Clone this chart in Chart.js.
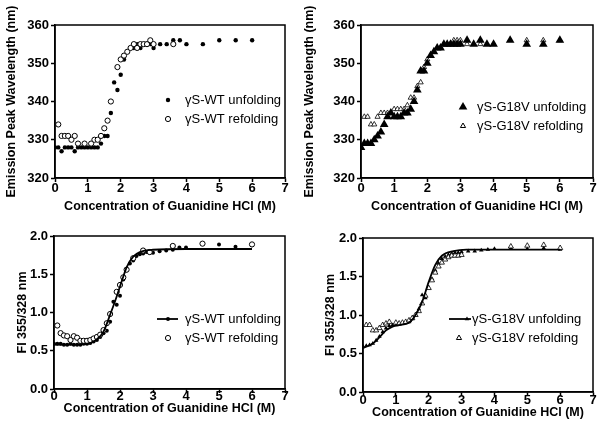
<!DOCTYPE html>
<html><head><meta charset="utf-8">
<script src="https://cdn.jsdelivr.net/npm/chart.js@4.4.0/dist/chart.umd.min.js"></script>
<style>
html,body{margin:0;padding:0;background:#fff;width:601px;height:428px;overflow:hidden}
canvas{position:absolute;display:block}
</style></head><body>
<canvas id="c1" width="300" height="214" style="left:0;top:0"></canvas>
<canvas id="c2" width="301" height="214" style="left:300px;top:0"></canvas>
<canvas id="c3" width="300" height="214" style="left:0;top:214px"></canvas>
<canvas id="c4" width="301" height="214" style="left:300px;top:214px"></canvas>
<script>
// ---------- DATA ----------
const xTitle = 'Concentration of Guanidine HCl (M)';
const concUnfold = [0,0.1,0.2,0.3,0.4,0.5,0.6,0.7,0.8,0.9,1.0,1.1,1.2,1.3,1.4,1.5,1.6,1.7,1.8,1.9,2.0,2.1,2.2,2.3,2.4,2.5,2.6,2.7,2.8,2.9,3.0,3.2,3.4,3.6,3.8,4.0,4.5,5.0,5.5,6.0];

// Panel A: WT emission peak (nm)
const wtEmUnfold = [328,328,327,328,328,328,327,328,328,328,328,328,328,328,329,331,331,337,345,343,347,351,353,354,354,355,354,355,355,355,354,355,355,356,356,355,355,356,356,356];
const wtEmRefoldX = [0.1,0.2,0.3,0.4,0.5,0.6,0.7,0.9,1.1,1.2,1.3,1.4,1.5,1.6,1.7,1.9,2.0,2.1,2.2,2.3,2.4,2.5,2.6,2.7,2.8,2.9,3.0,3.6];
const wtEmRefold  = [334,331,331,331,330,331,329,329,329,330,330,331,333,335,340,349,351,352,353,354,355,354,355,355,355,356,355,355];

// Panel B: G18V emission peak (nm)
const gvEmUnfold = [328,329,329,329,330,331,332,334,336,337,336,336,336,337,337,338,340,343,348,348,350,352,353,354,354,355,355,355,355,355,355,356,355,356,355,355,356,355,355,356];
const gvEmRefoldX = [0.1,0.2,0.3,0.4,0.5,0.6,0.7,0.8,0.9,1.0,1.1,1.2,1.3,1.4,1.5,1.6,1.7,1.8,1.9,2.0,2.1,2.2,2.3,2.4,2.5,2.6,2.7,2.8,2.9,3.0,3.2,3.6,4.0,5.0,5.5,6.0];
const gvEmRefold  = [336,336,334,334,336,337,337,337,337,338,338,338,338,339,341,341,344,345,349,351,352,353,354,354,355,355,355,356,356,356,355,355,355,356,356,356];

// Panel C: WT FI 355/328
const wtFiUnfold = [0.59,0.59,0.59,0.58,0.58,0.59,0.58,0.58,0.58,0.59,0.59,0.60,0.62,0.64,0.68,0.73,0.76,0.88,1.14,1.10,1.22,1.43,1.55,1.64,1.68,1.74,1.76,1.77,1.79,1.78,1.78,1.80,1.81,1.82,1.85,1.85,1.90,1.89,1.86,1.88];
const wtFiRefoldX = [0.1,0.2,0.3,0.4,0.5,0.6,0.7,0.8,0.9,1.0,1.1,1.2,1.3,1.4,1.5,1.6,1.7,1.9,2.0,2.1,2.2,2.4,2.7,2.9,3.6,4.5,6.0];
const wtFiRefold  = [0.83,0.73,0.70,0.69,0.64,0.69,0.67,0.63,0.63,0.63,0.64,0.66,0.68,0.71,0.77,0.86,0.98,1.27,1.36,1.46,1.56,1.71,1.81,1.79,1.87,1.90,1.89];
const wtFitX = [0,0.5,1.0,1.1,1.3,1.5,1.7,1.9,2.0,2.1,2.2,2.4,2.6,3.0,4.0,6.0];
const wtFitY = [0.58,0.58,0.59,0.60,0.65,0.75,0.97,1.21,1.34,1.47,1.59,1.73,1.79,1.82,1.83,1.83];

// Panel D: G18V FI 355/328
const gvFiUnfold = [0.59,0.60,0.61,0.63,0.67,0.72,0.78,0.83,0.86,0.87,0.87,0.88,0.89,0.90,0.91,0.95,1.00,1.08,1.26,1.22,1.35,1.47,1.58,1.67,1.73,1.76,1.78,1.80,1.81,1.81,1.82,1.83,1.83,1.84,1.85,1.86,1.87,1.86,1.87,1.85];
const gvFiRefoldX = [0.1,0.2,0.3,0.4,0.5,0.6,0.7,0.8,1.0,1.1,1.2,1.3,1.4,1.5,1.6,1.7,1.8,1.9,2.0,2.1,2.2,2.3,2.4,2.5,2.6,2.7,2.8,2.9,3.0,4.5,5.0,5.5,6.0];
const gvFiRefold  = [0.87,0.87,0.80,0.80,0.83,0.87,0.89,0.91,0.90,0.89,0.90,0.91,0.93,0.96,1.00,1.05,1.15,1.25,1.35,1.45,1.55,1.63,1.68,1.72,1.75,1.77,1.77,1.77,1.78,1.89,1.90,1.91,1.87];
const gvFitX = [0,0.3,0.5,0.7,0.9,1.1,1.4,1.6,1.8,2.0,2.2,2.4,2.75,3.15,4.0,6.0];
const gvFitY = [0.57,0.63,0.71,0.80,0.85,0.87,0.90,1.00,1.17,1.43,1.65,1.77,1.83,1.85,1.85,1.85];

// ---------- HELPERS ----------
const FONT = "'Liberation Sans', Arial, Helvetica, sans-serif";
const pts = (xs, ys) => xs.map((x, i) => ({x, y: ys[i]}));

function drawMarker(ctx, style, x, y, r, filled) {
  ctx.beginPath();
  if (style === 'circle') ctx.arc(x, y, r, 0, Math.PI * 2);
  else { ctx.moveTo(x, y - r); ctx.lineTo(x + r * 0.866, y + r * 0.5); ctx.lineTo(x - r * 0.866, y + r * 0.5); ctx.closePath(); }
  if (filled) { ctx.fillStyle = '#000'; ctx.fill(); }
  else { ctx.fillStyle = '#fff'; ctx.fill(); ctx.lineWidth = 1; ctx.strokeStyle = '#000'; ctx.stroke(); }
}

const framePlugin = {
  id: 'frame',
  afterDraw(chart) {
    const {ctx, chartArea: a} = chart;
    ctx.save();
    ctx.strokeStyle = '#000'; ctx.lineWidth = 1.5;
    ctx.strokeRect(a.left, a.top, a.right - a.left, a.bottom - a.top);
    const lg = chart.options.plugins.inlegend;
    if (lg) {
      ctx.font = '13px ' + FONT;
      ctx.textBaseline = 'middle';
      ctx.fillStyle = '#000';
      lg.items.forEach(it => {
        if (it.line) { ctx.beginPath(); ctx.moveTo(it.line[0], it.y); ctx.lineTo(it.line[1], it.y); ctx.lineWidth = 1.8; ctx.strokeStyle = '#000'; ctx.stroke(); }
        drawMarker(ctx, it.style, it.mx, it.y, it.r, it.filled);
        ctx.fillStyle = '#000';
        ctx.fillText(it.text, lg.tx, it.y);
      });
    }
    ctx.restore();
  }
};

function makeChart(id, cfg) {
  const tickFont = {family: FONT, size: 13, weight: 'bold', lineHeight: 1.0};
  const titleFont = {family: FONT, size: 12.5, weight: 'bold'};
  new Chart(document.getElementById(id), {
    type: 'scatter',
    data: {datasets: cfg.datasets},
    plugins: [framePlugin],
    options: {
      responsive: false, animation: false, devicePixelRatio: 1,
      layout: {padding: {left: 0, right: cfg.right, top: cfg.top, bottom: 0}},
      plugins: {legend: {display: false}, tooltip: {enabled: false}, inlegend: cfg.legend},
      scales: {
        x: {
          type: 'linear', min: 0, max: 7,
          ticks: {stepSize: 1, color: '#000', font: tickFont, padding: cfg.xtkPad, maxRotation: 0},
          grid: {drawOnChartArea: false, drawTicks: true, tickLength: 4, tickColor: '#000', tickWidth: 1.5},
          border: {display: true, color: '#000', width: 1.5},
          title: {display: true, text: xTitle, color: '#000', font: titleFont, padding: {top: 0, bottom: cfg.xtPad}},
          afterFit(s) { s.height = cfg.xH; }
        },
        y: {
          type: 'linear', min: cfg.ymin, max: cfg.ymax,
          ticks: {stepSize: cfg.ystep, color: '#000', font: tickFont, padding: 2, callback: cfg.yfmt},
          grid: {drawOnChartArea: false, drawTicks: true, tickLength: 4, tickColor: '#000', tickWidth: 1.5},
          border: {display: true, color: '#000', width: 1.5},
          title: {display: true, text: cfg.ytitle, color: '#000', font: titleFont, padding: {top: cfg.ytPad, bottom: 0}},
          afterFit(s) { s.width = cfg.yW; }
        }
      }
    }
  });
}

const fmtInt = v => String(v);
const fmt1 = v => v.toFixed(1);

// Panel A
makeChart('c1', {
  right: 15, top: 25, xH: 36, yW: 55, xtPad: 0, ytPad: 4.5, xtkPad: 0,
  ymin: 320, ymax: 360, ystep: 10, yfmt: fmtInt, ytitle: 'Emission Peak Wavelength (nm)',
  datasets: [
    {label: 'γS-WT refolding', data: pts(wtEmRefoldX, wtEmRefold), pointStyle: 'circle', pointRadius: 2.6, pointBackgroundColor: '#fff', pointBorderColor: '#000', pointBorderWidth: 1},
    {label: 'γS-WT unfolding', data: pts(concUnfold, wtEmUnfold), pointStyle: 'circle', pointRadius: 2.2, pointBackgroundColor: '#000', pointBorderColor: '#000', pointBorderWidth: 0}
  ],
  legend: {tx: 185, items: [
    {text: 'γS-WT unfolding', style: 'circle', filled: true, r: 2.2, mx: 168, y: 100},
    {text: 'γS-WT refolding', style: 'circle', filled: false, r: 2.6, mx: 168, y: 119}
  ]}
});

// Panel B
makeChart('c2', {
  right: 8, top: 25, xH: 36, yW: 61, xtPad: 0, ytPad: 2.5, xtkPad: 0,
  ymin: 320, ymax: 360, ystep: 10, yfmt: fmtInt, ytitle: 'Emission Peak Wavelength (nm)',
  datasets: [
    {label: 'γS-G18V unfolding', data: pts(concUnfold, gvEmUnfold), pointStyle: 'triangle', pointRadius: 5, pointBackgroundColor: '#000', pointBorderColor: '#000', pointBorderWidth: 0},
    {label: 'γS-G18V refolding', data: pts(gvEmRefoldX, gvEmRefold), pointStyle: 'triangle', pointRadius: 3, pointBackgroundColor: '#fff', pointBorderColor: '#000', pointBorderWidth: 0.8}
  ],
  legend: {tx: 177, items: [
    {text: 'γS-G18V unfolding', style: 'triangle', filled: true, r: 5, mx: 163, y: 107},
    {text: 'γS-G18V refolding', style: 'triangle', filled: false, r: 3, mx: 163, y: 126}
  ]}
});

// Panel C
makeChart('c3', {
  right: 15, top: 22, xH: 39, yW: 54, xtPad: 12, ytPad: 15.5, xtkPad: -3,
  ymin: 0, ymax: 2, ystep: 0.5, yfmt: fmt1, ytitle: 'FI 355/328 nm',
  datasets: [
    {label: 'fit', type: 'line', data: pts(wtFitX, wtFitY), showLine: true, borderColor: '#000', borderWidth: 1.8, pointRadius: 0, cubicInterpolationMode: 'monotone', fill: false},
    {label: 'γS-WT refolding', data: pts(wtFiRefoldX, wtFiRefold), pointStyle: 'circle', pointRadius: 2.6, pointBackgroundColor: '#fff', pointBorderColor: '#000', pointBorderWidth: 1},
    {label: 'γS-WT unfolding', data: pts(concUnfold, wtFiUnfold), pointStyle: 'circle', pointRadius: 2, pointBackgroundColor: '#000', pointBorderColor: '#000', pointBorderWidth: 0}
  ],
  legend: {tx: 185, items: [
    {text: 'γS-WT unfolding', style: 'circle', filled: true, r: 2, mx: 168, y: 105, line: [157, 178]},
    {text: 'γS-WT refolding', style: 'circle', filled: false, r: 2.6, mx: 168, y: 124}
  ]}
});

// Panel D
makeChart('c4', {
  right: 8, top: 24, xH: 36, yW: 63, xtPad: 8, ytPad: 23.5, xtkPad: -2,
  ymin: 0, ymax: 2, ystep: 0.5, yfmt: fmt1, ytitle: 'FI 355/328 nm',
  datasets: [
    {label: 'fit', type: 'line', data: pts(gvFitX, gvFitY), showLine: true, borderColor: '#000', borderWidth: 1.8, pointRadius: 0, cubicInterpolationMode: 'monotone', fill: false},
    {label: 'γS-G18V refolding', data: pts(gvFiRefoldX, gvFiRefold), pointStyle: 'triangle', pointRadius: 3, pointBackgroundColor: '#fff', pointBorderColor: '#000', pointBorderWidth: 0.8},
    {label: 'γS-G18V unfolding', data: pts(concUnfold, gvFiUnfold), pointStyle: 'triangle', pointRadius: 2.6, pointBackgroundColor: '#000', pointBorderColor: '#000', pointBorderWidth: 0}
  ],
  legend: {tx: 172, items: [
    {text: 'γS-G18V unfolding', style: 'triangle', filled: true, r: 2.6, mx: 167, y: 105, line: [149, 171]},
    {text: 'γS-G18V refolding', style: 'triangle', filled: false, r: 3, mx: 159, y: 124}
  ]}
});
</script>
</body></html>
